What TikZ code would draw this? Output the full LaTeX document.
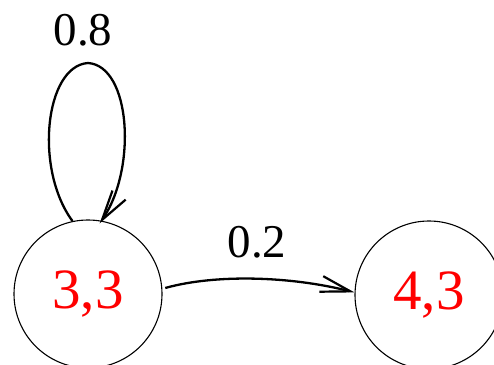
\documentclass[tikz,border=0pt]{standalone}
\usepackage{fontspec}
\setmainfont{Liberation Serif}
\usetikzlibrary{arrows.meta}
\begin{document}
\begin{tikzpicture}[x=1pt,y=1pt,
  state/.style={circle,draw,line width=1.1pt,minimum size=148pt,inner sep=0pt,
    text=red,font=\fontsize{57}{60}\selectfont},
  lbl/.style={inner sep=0pt,font=\fontsize{47}{50}\selectfont},
  conn/.style={line width=2.3pt,-{Straight Barb[length=30pt,width=16pt,line width=2.2pt]}}]
\useasboundingbox (0,0) rectangle (494,364);
\node[state] (a) at (88,70) {3,3};
\node[state] (b) at (429,69) {4,3};
\coordinate (top) at (88,301);
\draw[conn] (a.102) .. controls (34,195) and (45,298) .. (top)
  .. controls (131,298) and (137,195) .. ([yshift=-3pt]a.81);
\node[lbl] (l1) at (83,334) {0.8};
\draw[conn,shorten <=3pt] (a.4) .. controls (215,90) and (290,88) .. (b.178);
\node[lbl] (l2) at (257,122) {0.2};
\end{tikzpicture}
\end{document}
